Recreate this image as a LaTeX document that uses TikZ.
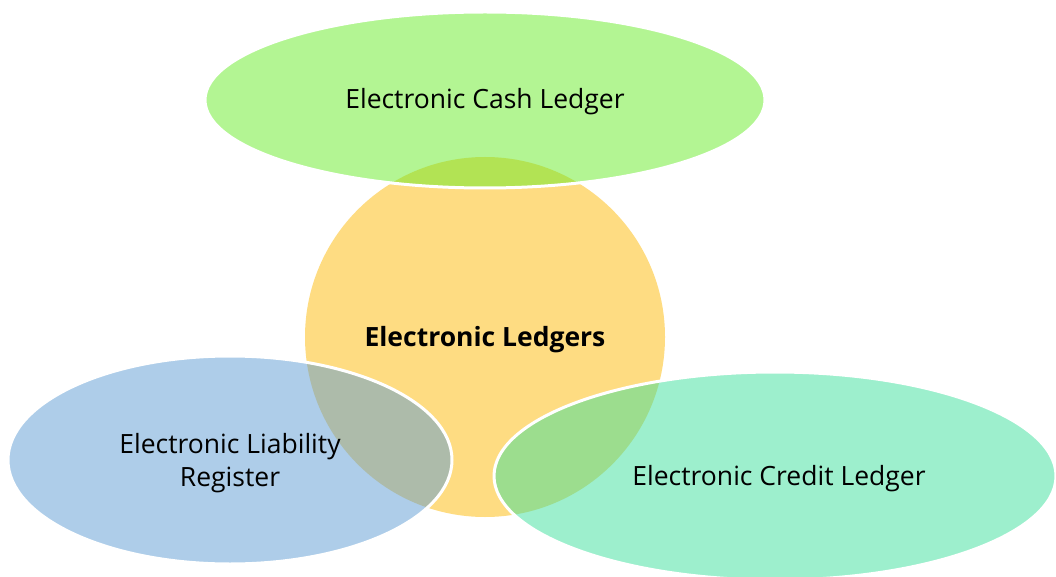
\documentclass[tikz,border=0pt]{standalone}
\usepackage{fontspec}
\setmainfont{Open Sans}
\definecolor{cgreen}{RGB}{103,235,39}
\definecolor{cyellow}{RGB}{254,220,130}
\definecolor{cblue}{RGB}{93,155,211}
\definecolor{cteal}{RGB}{59,223,155}
\tikzset{
  bubble/.style={draw=white, line width=3pt, fill opacity=0.5, draw opacity=1},
  lbl/.style={font=\fontsize{26.5}{33}\selectfont, align=center, text=black},
}
\begin{document}
\begin{tikzpicture}[x=1pt,y=-1pt]
\useasboundingbox (0,0) rectangle (1056,577);
\clip (0,0) rectangle (1056,577);
\fill[cyellow] (485,337) circle (180);
\draw[bubble, fill=cgreen] (485,100) ellipse (280 and 88);
\draw[bubble, fill=cblue] (230,460) ellipse (222 and 104);
\draw[bubble, fill=cteal] (775,476) ellipse (281 and 104);
\node[lbl, font=\fontsize{26.5}{33}\selectfont\bfseries] (center) at (485,340) {Electronic Ledgers};
\node[lbl] (cash) at (485,102) {Electronic Cash Ledger};
\node[lbl] (liab) at (230,463) {Electronic Liability\\Register};
\node[lbl] (credit) at (779,479) {Electronic Credit Ledger};
\end{tikzpicture}
\end{document}
